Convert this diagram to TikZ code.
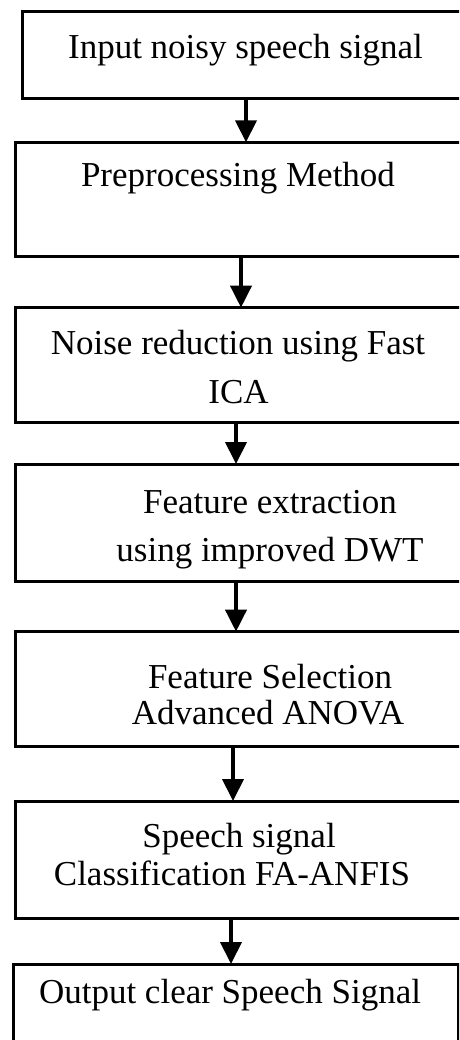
\documentclass[tikz,border=0pt]{standalone}
\usepackage{fontspec}
\setmainfont{Liberation Serif}
\usetikzlibrary{arrows.meta}
\begin{document}
\begin{tikzpicture}[x=1pt,y=-1pt,
  box/.style={draw=black, line width=3pt, rectangle, inner sep=0pt, outer sep=0pt},
  txt/.style={anchor=base, inner sep=0pt, font=\fontsize{35}{42}\selectfont},
  arr/.style={draw=black, line width=4pt, -{Triangle[width=21pt,length=22pt]}}]
\useasboundingbox (0,0) rectangle (459,1040);
\clip (0,0) rectangle (459,1040);
% boxes
\node[box, minimum width=453pt, minimum height=87.3pt] (b1) at (248.5,55.3) {};
\node[box, minimum width=460pt, minimum height=114.4pt] (b2) at (245,199.5) {};
\node[box, minimum width=460pt, minimum height=115.3pt] (b3) at (245,365.3) {};
\node[box, minimum width=460pt, minimum height=117pt] (b4) at (245,522.5) {};
\node[box, minimum width=460pt, minimum height=115.3pt] (b5) at (245,689.3) {};
\node[box, minimum width=460pt, minimum height=117.5pt] (b6) at (245,859.75) {};
\node[box, minimum width=445pt, minimum height=96pt] (b7) at (235.5,1012) {};
% texts
\node[txt] (t1) at (245.5,59) {Input noisy speech signal};
\node[txt] (t2) at (238,187) {Preprocessing Method};
\node[txt] (t3a) at (238,354) {Noise reduction using Fast};
\node[txt] (t3b) at (238.5,403) {ICA};
\node[txt] (t4a) at (270,513) {Feature extraction};
\node[txt] (t4b) at (270,561) {using improved DWT};
\node[txt] (t5a) at (270,688) {Feature Selection};
\node[txt] (t5b) at (268,724) {Advanced ANOVA};
\node[txt] (t6a) at (239,847) {Speech signal};
\node[txt] (t6b) at (232,885) {Classification FA-ANFIS};
\node[txt] (t7) at (230,1003) {Output clear Speech Signal};
% arrows
\draw[arr] ([xshift=224pt]b1.south west) -- ([xshift=224pt]b1.south west |- b2.north);
\draw[arr] ([xshift=226pt]b2.south west) -- ([xshift=226pt]b2.south west |- b3.north);
\draw[arr] ([xshift=221pt]b3.south west) -- ([xshift=221pt]b3.south west |- b4.north);
\draw[arr] ([xshift=221pt]b4.south west) -- ([xshift=221pt]b4.south west |- b5.north);
\draw[arr] ([xshift=218pt]b5.south west) -- ([xshift=218pt]b5.south west |- b6.north);
\draw[arr] ([xshift=216pt]b6.south west) -- ([xshift=216pt]b6.south west |- b7.north);
\end{tikzpicture}
\end{document}
